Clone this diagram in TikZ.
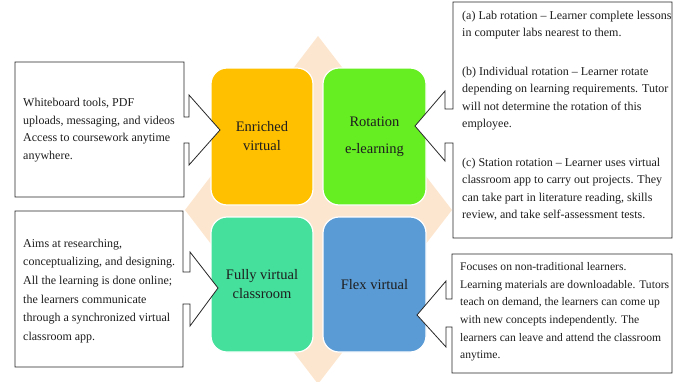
\documentclass[tikz,border=0pt]{standalone}
\usepackage{fontspec}
\setmainfont{Liberation Serif}
\definecolor{peach}{HTML}{FDE6CF}
\definecolor{gold}{HTML}{FFC000}
\definecolor{lime}{HTML}{66EE22}
\definecolor{mint}{HTML}{44E09C}
\definecolor{sky}{HTML}{5B9BD5}
\definecolor{ink}{HTML}{1E1E1E}
\tikzset{
  sq/.style={draw=white, line width=1.2pt, rounded corners=16pt, align=center,
    text=ink, inner sep=0pt, font=\fontsize{14.5}{19}\selectfont},
  callout/.style={draw=black!85, fill=white, line width=0.8pt, line join=miter},
  txt/.style={align=left, inner sep=0pt, text=ink, font=\fontsize{12}{17.5}\selectfont}
}
\begin{document}
\begin{tikzpicture}[x=1pt,y=-1pt]
\useasboundingbox (0,0) rectangle (673,381);
% background diamond
\fill[peach] (318,36) -- (452,210) -- (318,384) -- (185,210) -- cycle;
% four quadrants
\node[sq, fill=gold, minimum width=102pt, minimum height=137pt] (ev) at (262,136.5) {Enriched\\virtual};
\node[sq, fill=lime, minimum width=103pt, minimum height=137pt] (re) at (374.5,136.5) {Rotation\\[8pt]e-learning};
\node[sq, fill=mint, minimum width=102pt, minimum height=135pt] (fv) at (262,284.5) {Fully virtual\\classroom};
\node[sq, fill=sky, minimum width=103pt, minimum height=135pt] (fx) at (374.5,284.5) {Flex virtual};
% callouts
\draw[callout] (15,62) -- (184,62) -- (184,117) -- (189,117) -- (189,95) -- (220,130)
  -- (189,165) -- (189,143) -- (184,143) -- (184,197) -- (15,197) -- cycle;
\draw[callout] (15,211) -- (183,211) -- (183,272) -- (190,272) -- (190,252) -- (218,288)
  -- (190,326) -- (190,304) -- (183,304) -- (183,367) -- (15,367) -- cycle;
\draw[callout] (453,2) -- (672,2) -- (672,238) -- (453,238) -- (453,143) -- (445,143)
  -- (445,161) -- (415,126) -- (445,91) -- (445,109) -- (453,109) -- cycle;
\draw[callout] (452,254) -- (672,254) -- (672,373) -- (452,373) -- (452,327) -- (446,327)
  -- (446,347) -- (417,315) -- (446,281) -- (446,299) -- (452,299) -- cycle;
% texts
\node[txt, anchor=west] (t1) at (23,130) {Whiteboard tools, PDF\\uploads, messaging,  and videos\\Access  to coursework anytime\\anywhere.};
\node[txt, anchor=west, font=\fontsize{12}{18.6}\selectfont] (t2) at (23,291) {Aims at researching,\\conceptualizing, and designing.\\All the learning is done online;\\the learners communicate\\through a synchronized  virtual\\classroom app.};
\node[txt, anchor=west] (t3) at (462,116) {(a) Lab rotation – Learner  complete lessons\\in computer labs nearest to them.\\[21pt](b) Individual rotation –  Learner rotate\\depending  on learning requirements. Tutor\\will not determine the rotation of this\\employee.\\[21pt](c) Station rotation – Learner  uses virtual\\classroom app to carry out projects. They\\can take part in literature reading, skills\\review, and take self-assessment tests.};
\node[txt, anchor=west, font=\fontsize{11.6}{17.6}\selectfont] (t4) at (460,312) {Focuses on non-traditional learners.\\Learning  materials are downloadable. Tutors\\teach on demand, the learners can come up\\with new concepts independently.  The\\learners can leave and attend the classroom\\anytime.};
\end{tikzpicture}
\end{document}
